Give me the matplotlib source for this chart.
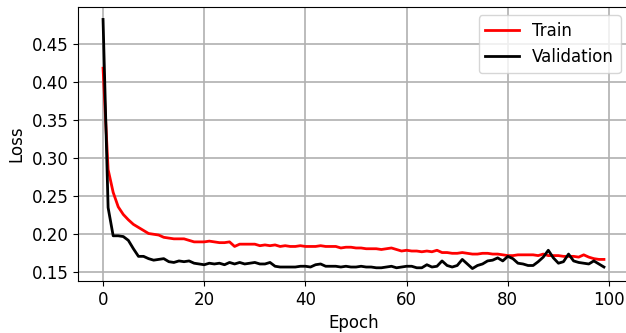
import numpy as np
import matplotlib
import matplotlib.pyplot as plt
matplotlib.use('Agg')

train_loss = [
    0.418, 0.285, 0.255, 0.236, 0.226, 0.219, 0.213, 0.209, 0.205, 0.201,
    0.200, 0.199, 0.196, 0.195, 0.194, 0.194, 0.194, 0.192, 0.190, 0.190,
    0.190, 0.191, 0.190, 0.189, 0.189, 0.190, 0.184, 0.187, 0.187, 0.187,
    0.187, 0.185, 0.186, 0.185, 0.186, 0.184, 0.185, 0.184, 0.184, 0.185,
    0.184, 0.184, 0.184, 0.185, 0.184, 0.184, 0.184, 0.182, 0.183, 0.183,
    0.182, 0.182, 0.181, 0.181, 0.181, 0.180, 0.181, 0.182, 0.180, 0.178,
    0.179, 0.178, 0.178, 0.177, 0.178, 0.177, 0.179, 0.176, 0.176, 0.175,
    0.175, 0.176, 0.175, 0.174, 0.174, 0.175, 0.175, 0.174, 0.174, 0.173,
    0.172, 0.172, 0.173, 0.173, 0.173, 0.173, 0.172, 0.174, 0.172, 0.172,
    0.172, 0.171, 0.171, 0.171, 0.170, 0.173, 0.170, 0.168, 0.167, 0.167,
]
val_loss = [
    0.482, 0.235, 0.198, 0.198, 0.197, 0.192, 0.181, 0.171, 0.171, 0.168,
    0.166, 0.167, 0.168, 0.164, 0.163, 0.165, 0.164, 0.165, 0.162, 0.161,
    0.160, 0.162, 0.161, 0.162, 0.160, 0.163, 0.161, 0.163, 0.161, 0.162,
    0.163, 0.161, 0.161, 0.163, 0.158, 0.157, 0.157, 0.157, 0.157, 0.158,
    0.158, 0.157, 0.160, 0.161, 0.158, 0.158, 0.158, 0.157, 0.158, 0.157,
    0.157, 0.158, 0.157, 0.157, 0.156, 0.156, 0.157, 0.158, 0.156, 0.157,
    0.158, 0.158, 0.156, 0.156, 0.160, 0.157, 0.158, 0.165, 0.159, 0.157,
    0.159, 0.167, 0.161, 0.155, 0.159, 0.161, 0.165, 0.166, 0.169, 0.165,
    0.171, 0.168, 0.162, 0.161, 0.159, 0.159, 0.164, 0.170, 0.179, 0.169,
    0.162, 0.164, 0.174, 0.165, 0.163, 0.162, 0.161, 0.165, 0.161, 0.157,
]
epochs = np.arange(len(train_loss))

plt.rcParams['font.size'] = 12

fig = plt.figure(figsize=(6.26, 3.33), dpi=100)
ax = fig.add_axes([78 / 626, 52 / 333, 551 / 626, 274 / 333])
ax.plot(epochs, train_loss, color='red', lw=2, label='Train')
ax.plot(epochs, val_loss, color='black', lw=2, label='Validation')
ax.set_xlabel('Epoch')
ax.set_ylabel('Loss')
ax.grid(True, lw=1.2)
ax.legend(loc='upper right')
fig.savefig('out.png', dpi=100)
